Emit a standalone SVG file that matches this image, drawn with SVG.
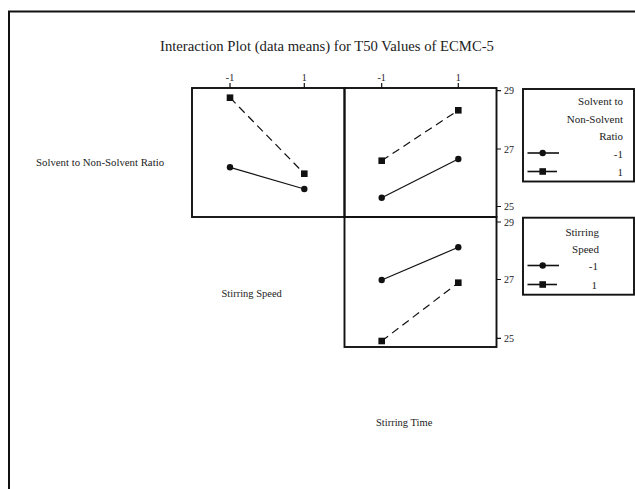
<svg xmlns="http://www.w3.org/2000/svg" width="635" height="489" viewBox="0 0 635 489" font-family="'Liberation Serif', 'DejaVu Serif', serif">
<style>
text{font-family:"Liberation Serif","DejaVu Serif",serif;fill:#222}
.frame{fill:none;stroke:#111;stroke-width:1.9}
.tick{stroke:#111;stroke-width:1.2}
.tl{font-size:10px}
.ax{font-size:10.5px}
.lg{font-size:11px}
.solid{stroke:#111;stroke-width:1.2;fill:none}
.dash{stroke:#111;stroke-width:1.2;fill:none;stroke-dasharray:8 5}
.c{fill:#111}
.s{fill:#111}
.ll{stroke:#111;stroke-width:1.6}
</style>
<defs>
<circle id="m-c" r="3.2" class="c"/>
<rect id="m-s" x="-3.3" y="-3.3" width="6.6" height="6.6" class="s"/>
</defs>
<rect width="635" height="489" fill="#fff"/>
<path d="M9 489 V11.5 H635" fill="none" stroke="#111" stroke-width="2"/>
<text x="327" y="51" text-anchor="middle" font-size="14.7">Interaction Plot (data means) for T50 Values of ECMC-5</text>

<g id="panel-top-left">
<rect x="192" y="88" width="152.5" height="129" class="frame"/>
</g>
<g id="panel-top-right">
<rect x="344.5" y="88" width="152" height="129" class="frame"/>
</g>
<g id="panel-bottom">
<rect x="344.5" y="217" width="152" height="130" class="frame"/>
</g>

<g id="axis-ticks">
<path class="tick" d="M230 83 V88 M304.3 83 V88 M381.7 83 V88 M458.3 83 V88"/>
<text class="tl" x="230" y="80.5" text-anchor="middle">-1</text>
<text class="tl" x="304.3" y="80.5" text-anchor="middle">1</text>
<text class="tl" x="381.7" y="80.5" text-anchor="middle">-1</text>
<text class="tl" x="458.3" y="80.5" text-anchor="middle">1</text>
<path class="tick" d="M496.5 90.7 H501 M496.5 149 H501 M496.5 206.5 H501 M496.5 222 H501 M496.5 279.5 H501 M496.5 338.3 H501"/>
<text class="tl" x="504" y="94">29</text>
<text class="tl" x="504" y="152.5">27</text>
<text class="tl" x="504" y="210">25</text>
<text class="tl" x="504" y="226">29</text>
<text class="tl" x="504" y="283">27</text>
<text class="tl" x="504" y="342">25</text>
</g>

<g id="label-ratio"><text class="ax" x="36" y="166" font-size="10.8" style="font-size:10.8px">Solvent to Non-Solvent Ratio</text></g>
<g id="label-speed"><text class="ax" x="221.5" y="297">Stirring Speed</text></g>
<g id="label-time"><text class="ax" x="376" y="426">Stirring Time</text></g>

<g id="legend-ratio">
<rect x="523" y="89" width="111" height="92.5" class="frame"/>
<text class="lg" x="623" y="105" text-anchor="end">Solvent to</text>
<text class="lg" x="623" y="122.5" text-anchor="end">Non-Solvent</text>
<text class="lg" x="623" y="140" text-anchor="end">Ratio</text>
<line x1="527.5" y1="153" x2="559" y2="153" class="ll"/>
<use href="#m-c" x="542.7" y="153"/>
<text class="lg" x="623" y="158" text-anchor="end">-1</text>
<line x1="527.5" y1="171.5" x2="557" y2="171.5" class="ll"/>
<use href="#m-s" x="542.7" y="171.5"/>
<text class="lg" x="623" y="175.5" text-anchor="end">1</text>
</g>

<g id="legend-speed">
<rect x="523" y="217.7" width="111" height="77" class="frame"/>
<text class="lg" x="599" y="236" text-anchor="end">Stirring</text>
<text class="lg" x="599" y="252.5" text-anchor="end">Speed</text>
<line x1="527.5" y1="265.5" x2="559" y2="265.5" class="ll"/>
<use href="#m-c" x="542.7" y="265.5"/>
<text class="lg" x="598" y="270" text-anchor="end">-1</text>
<line x1="527.5" y1="284.5" x2="557" y2="284.5" class="ll"/>
<use href="#m-s" x="542.7" y="284.5"/>
<text class="lg" x="597" y="289" text-anchor="end">1</text>
</g>

<g id="connectors">
<line class="dash" x1="230" y1="97.7" x2="304.3" y2="173.7"/>
<line class="solid" x1="230" y1="167.3" x2="304.3" y2="189"/>
<line class="dash" x1="381.7" y1="160.7" x2="458.3" y2="110.3"/>
<line class="solid" x1="381.7" y1="197.7" x2="458.3" y2="159"/>
<line class="solid" x1="381.7" y1="280" x2="458.3" y2="247.3"/>
<line class="dash" x1="381.7" y1="341" x2="458.3" y2="282.7"/>
</g>

<g id="markers">
<use href="#m-s" x="230" y="97.7"/>
<use href="#m-s" x="304.3" y="173.7"/>
<use href="#m-c" x="230" y="167.3"/>
<use href="#m-c" x="304.3" y="189"/>
<use href="#m-s" x="381.7" y="160.7"/>
<use href="#m-s" x="458.3" y="110.3"/>
<use href="#m-c" x="381.7" y="197.7"/>
<use href="#m-c" x="458.3" y="159"/>
<use href="#m-c" x="381.7" y="280"/>
<use href="#m-c" x="458.3" y="247.3"/>
<use href="#m-s" x="381.7" y="341"/>
<use href="#m-s" x="458.3" y="282.7"/>
</g>
</svg>
